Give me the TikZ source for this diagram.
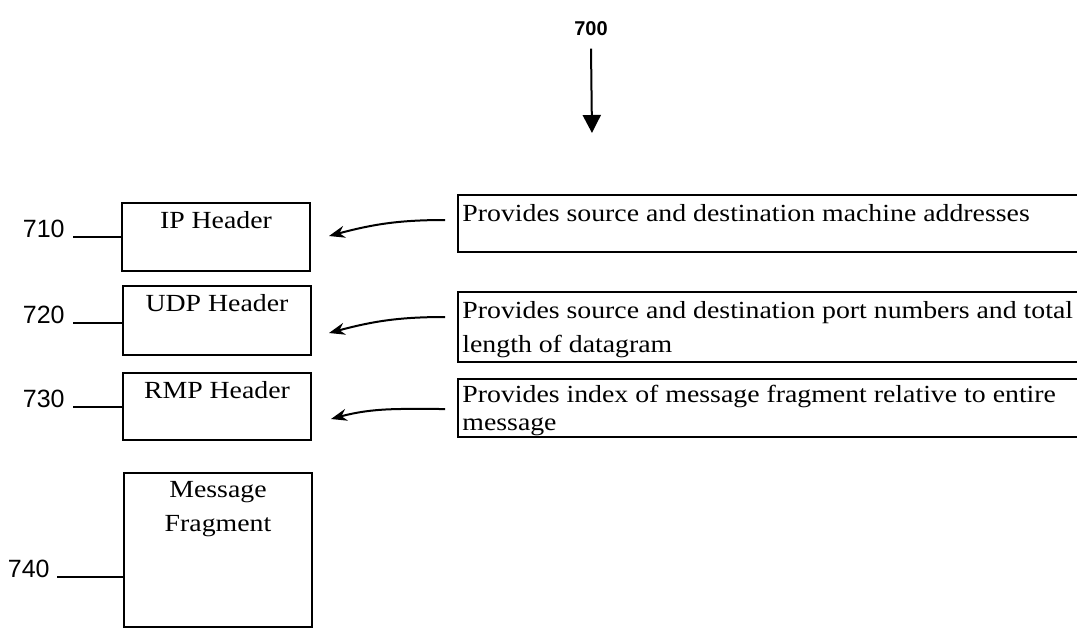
\documentclass[tikz,border=0pt]{standalone}
\usepackage{fontspec}
\setmainfont{Liberation Serif}
\newfontfamily\descfont[FakeStretch=1.13]{Liberation Serif}
\newfontfamily\numfont{Liberation Sans}
\usepackage{tikz}
\usetikzlibrary{arrows.meta,positioning}
\newcommand\boxfont{\descfont\fontsize{12.3pt}{17pt}\selectfont}
\tikzstyle{hdrbox} = [rectangle, draw, line width=1pt, minimum width=94pt, inner sep=0pt]
\tikzstyle{descbox} = [rectangle, draw, line width=1pt, minimum width=321pt, inner sep=0pt, anchor=west]
\tikzstyle{boxlabel} = [anchor=north, font=\boxfont, align=center, inner sep=2pt, yshift=-2.5pt]
\tikzstyle{desclabel} = [anchor=north west, font=\boxfont, align=left, inner sep=2pt, yshift=-3pt, xshift=0.5pt]
\tikzstyle{refnum} = [anchor=base east, inner sep=0pt, font=\numfont\fontsize{12.5pt}{14pt}\selectfont]
\tikzstyle{leader} = [line width=0.9pt]
\tikzstyle{pointer} = [line width=1pt, -{Stealth[length=8pt,width=6pt]}]

\begin{document}
\begin{tikzpicture}[x=0.5pt, y=-0.5pt]
\useasboundingbox (0,0) rectangle (1077,628);
\clip (0,0) rectangle (1077,628);

% Figure number
\node[anchor=base, inner sep=0pt, font=\numfont\bfseries\fontsize{10pt}{12pt}\selectfont] (l700) at (591,35) {700};
\coordinate (tip700) at (592,133);
\draw[line width=1pt, -{Triangle[length=9pt,width=9pt]}] ([yshift=-6.5pt]l700.south) -- (tip700);

% Datagram parts
\node[hdrbox, minimum height=34pt, label={[boxlabel]north:IP Header}] (ip) at (216,237) {};
\node[hdrbox, minimum height=34.5pt, label={[boxlabel]north:UDP Header}] (udp) at (217,320.5) {};
\node[hdrbox, minimum height=33.5pt, label={[boxlabel]north:RMP Header}] (rmp) at (217,406.5) {};
\node[hdrbox, minimum height=77pt, label={[boxlabel]north:Message\\Fragment}] (msg) at (218,550) {};

% Reference numerals
\node[refnum] (l710) at (65,237) {710};
\node[refnum] (l720) at (65,323) {720};
\node[refnum] (l730) at (65,407) {730};
\node[refnum] (l740) at (50,577) {740};
\draw[leader] ([xshift=4pt]l710.base east) -- (l710.base east -| ip.west);
\draw[leader] ([xshift=4pt]l720.base east) -- (l720.base east -| udp.west);
\draw[leader] ([xshift=4pt]l730.base east) -- (l730.base east -| rmp.west);
\draw[leader] ([xshift=3.5pt]l740.base east) -- (l740.base east -| msg.west);

% Descriptions
\node[descbox, minimum height=28.5pt, label={[desclabel]north west:Provides source and destination machine addresses}] (ipdesc) at (457,223.5) {};
\node[descbox, minimum height=35pt, label={[desclabel]north west:Provides source and destination port numbers and total\\length of datagram}] (udpdesc) at (457,327) {};
\node[descbox, minimum height=29pt, label={[desclabel, yshift=1.5pt, font=\descfont\fontsize{12.3pt}{14pt}\selectfont]north west:Provides index of message fragment relative to entire\\message}] (rmpdesc) at (457,408) {};

% Pointers
\draw[pointer] ([xshift=-6pt,yshift=1.75pt]ipdesc.west) to[out=180,in=15] ([xshift=9pt,yshift=0.5pt]ip.east);
\draw[pointer] ([xshift=-6pt,yshift=5pt]udpdesc.west) to[out=180,in=15] ([xshift=8.5pt,yshift=-6.25pt]udp.east);
\draw[pointer] ([xshift=-6pt,yshift=-0.5pt]rmpdesc.west) to[out=180,in=15] ([xshift=9.5pt,yshift=-6.25pt]rmp.east);
\end{tikzpicture}
\end{document}
